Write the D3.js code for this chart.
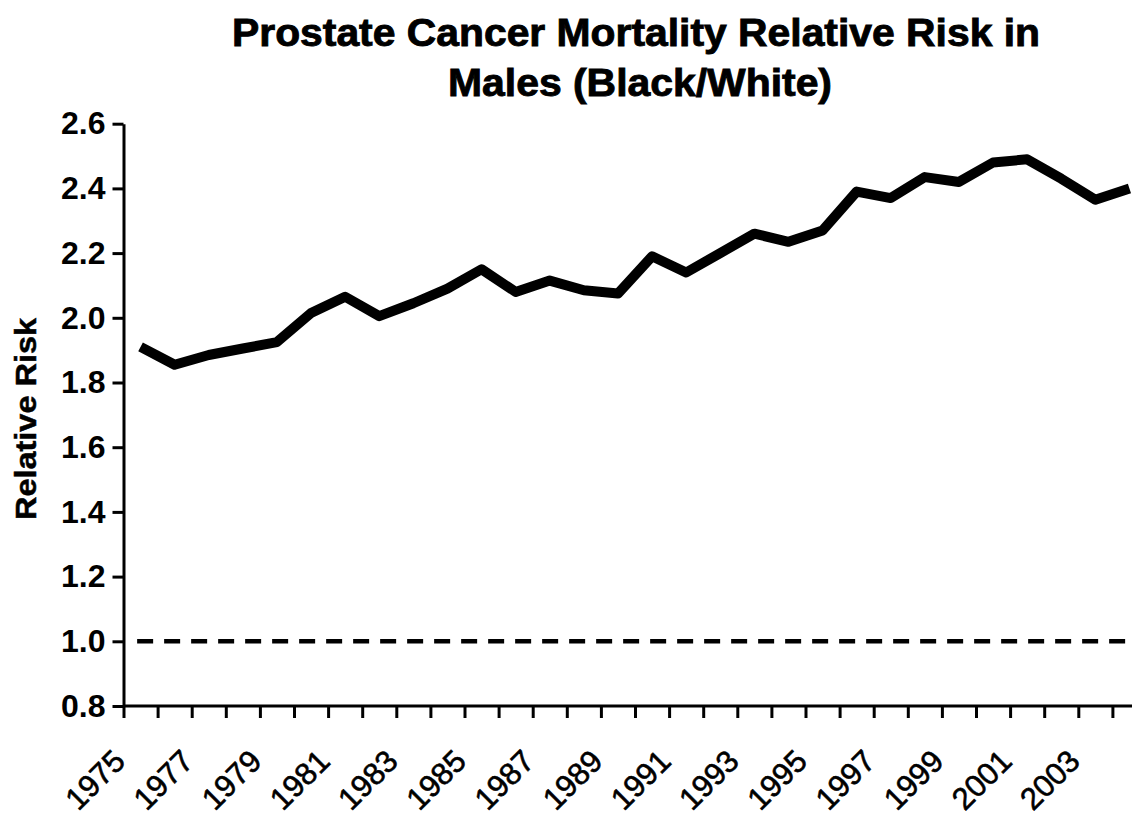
<!DOCTYPE html>
<html>
<head>
<meta charset="utf-8">
<script src="https://cdn.jsdelivr.net/npm/d3@7"></script>
<style>
  html, body { margin: 0; padding: 0; background: #fff; }
  svg { display: block; font-family: "Liberation Sans", Arial, Helvetica, sans-serif; }
</style>
</head>
<body>
<div id="chart"></div>
<script>
// values
const years = [1975,1976,1977,1978,1979,1980,1981,1982,1983,1984,1985,1986,1987,1988,1989,
               1990,1991,1992,1993,1994,1995,1996,1997,1998,1999,2000,2001,2002,2003,2004];
const relRisk = [1.91,1.855,1.885,1.905,1.925,2.015,2.065,2.005,2.045,2.09,2.15,2.08,2.115,2.085,2.075,
                 2.19,2.14,2.20,2.26,2.235,2.27,2.39,2.37,2.435,2.42,2.48,2.49,2.43,2.365,2.40];
const yTicks = [0.8,1.0,1.2,1.4,1.6,1.8,2.0,2.2,2.4,2.6];
const xTickYears = d3.range(1975, 2006);
const xLabelYears = [1975,1977,1979,1981,1983,1985,1987,1989,1991,1993,1995,1997,1999,2001,2003];
const refLevel = 1.0;
const titleLines = ["Prostate Cancer Mortality Relative Risk in", "Males (Black/White)"];
const yTitle = "Relative Risk";

const W = 1132, H = 817;
const pad = {left: 123.5, top: 123.7, bottom: 706};
const step = 34.1;

const svg = d3.select("#chart").append("svg")
  .attr("width", W)
  .attr("height", H);

const x = d3.scaleLinear()
  .domain([1975, 2005])
  .range([pad.left, pad.left + 30 * step]);

const y = d3.scaleLinear()
  .domain([0.8, 2.6])
  .range([pad.bottom, pad.top]);

// title
const titleG = svg.append("g")
  .attr("font-weight", "bold")
  .attr("font-size", 39)
  .attr("text-anchor", "middle")
  .attr("stroke", "#000")
  .attr("stroke-width", 0.9);
titleG.append("text").attr("x", 636).attr("y", 46)
  .attr("textLength", 808).attr("lengthAdjust", "spacingAndGlyphs")
  .text(titleLines[0]);
titleG.append("text").attr("x", 640).attr("y", 96)
  .attr("textLength", 384).attr("lengthAdjust", "spacingAndGlyphs")
  .text(titleLines[1]);

// y axis
const yAxis = svg.append("g")
  .attr("transform", "translate(" + pad.left + ",0)")
  .call(d3.axisLeft(y)
    .tickValues(yTicks)
    .tickFormat(d3.format(".1f"))
    .tickSize(11)
    .tickSizeOuter(0)
    .tickPadding(7));
yAxis.selectAll("path, line").attr("stroke", "#000").attr("stroke-width", 3);
yAxis.selectAll("text")
  .attr("font-size", 32)
  .attr("font-weight", "bold")
  .attr("font-family", "Liberation Sans, Arial, sans-serif")
  .attr("fill", "#000");

// x axis
const xAxis = svg.append("g")
  .attr("transform", "translate(0," + pad.bottom + ")")
  .call(d3.axisBottom(x)
    .tickValues(xTickYears)
    .tickFormat(d => xLabelYears.includes(d) ? String(d) : "")
    .tickSize(12)
    .tickSizeOuter(0));
xAxis.select(".domain").attr("d", "M" + pad.left + ",0H" + W);
xAxis.selectAll("path, line").attr("stroke", "#000").attr("stroke-width", 3);
xAxis.selectAll("text")
  .attr("font-size", 31)
  .attr("font-family", "Liberation Sans, Arial, sans-serif")
  .attr("fill", "#000")
  .attr("stroke", "#000")
  .attr("stroke-width", 0.6)
  .attr("text-anchor", "end")
  .attr("dy", null)
  .attr("x", 3)
  .attr("y", 57)
  .attr("transform", "rotate(-45,3,57)");

// y title
svg.append("text")
  .attr("transform", "translate(36,419) rotate(-90)")
  .attr("text-anchor", "middle")
  .attr("font-size", 29)
  .attr("font-weight", "bold")
  .attr("stroke", "#000")
  .attr("stroke-width", 0.5)
  .attr("textLength", 202).attr("lengthAdjust", "spacingAndGlyphs")
  .text(yTitle);

// dashed reference line
svg.append("line")
  .attr("x1", x(1975.4))
  .attr("x2", W)
  .attr("y1", y(refLevel))
  .attr("y2", y(refLevel))
  .attr("stroke", "#000")
  .attr("stroke-width", 4.5)
  .attr("stroke-dasharray", "16,11");

// series (plotted at mid-year)
const line = d3.line()
  .x((d, i) => x(years[i] + 0.5))
  .y(d => y(d));

svg.append("path")
  .datum(relRisk)
  .attr("fill", "none")
  .attr("stroke", "#000")
  .attr("stroke-width", 10)
  .attr("stroke-linejoin", "round")
  .attr("d", line);
</script>
</body>
</html>
